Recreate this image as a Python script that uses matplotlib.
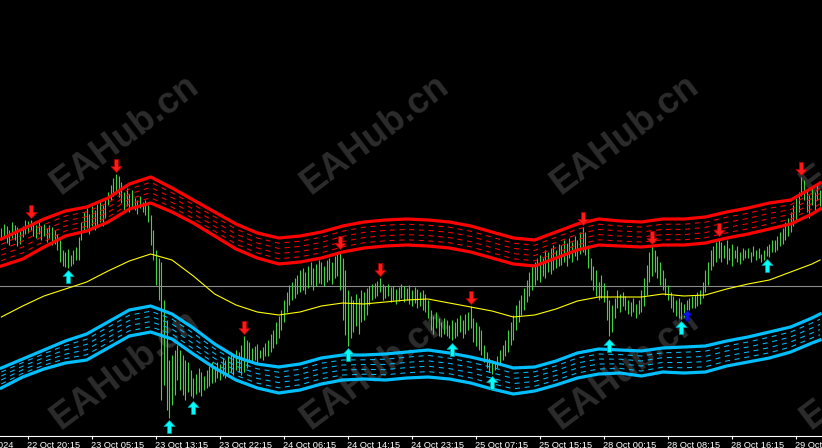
import matplotlib
matplotlib.use("Agg")
import matplotlib.pyplot as plt
import numpy as np
from matplotlib.path import Path

plt.rcParams["lines.scale_dashes"] = False

# bar highs / lows (price in chart points), one value per bar
highs = [
    272, 276, 274, 270, 278, 275, 273, 269, 274, 280,
    279, 280, 277, 275, 278, 274, 276, 272, 275, 273,
    270, 266, 260, 250, 248, 251, 245, 250, 253, 263,
    278, 288, 292, 286, 294, 290, 296, 300, 295, 302,
    308, 315, 322, 326, 324, 318, 308, 312, 306, 310,
    302, 300, 304, 298, 300, 295, 285, 270, 250, 242,
    238, 200, 180, 140, 145, 150, 155, 150, 145, 140,
    138, 130, 122, 126, 132, 128, 124, 130, 134, 138,
    134, 138, 136, 142, 140, 144, 148, 145, 150, 148,
    155, 164, 160, 158, 152, 154, 156, 150, 153, 157,
    160, 166, 170, 178, 184, 190, 200, 208, 215, 218,
    222, 225, 230, 232, 228, 234, 238, 232, 236, 240,
    238, 234, 240, 242, 238, 244, 246, 249, 242, 230,
    210, 204, 200, 206, 202, 210, 208, 212, 214, 216,
    217, 219, 222, 216, 214, 216, 213, 214, 211, 213,
    216, 214, 212, 215, 210, 213, 211, 208, 210, 206,
    200, 190, 184, 188, 182, 178, 182, 180, 175, 180,
    178, 182, 185, 180, 186, 188, 194, 182, 178, 174,
    170, 155, 148, 142, 140, 138, 144, 150, 155, 160,
    170, 178, 185, 195, 200, 205, 212, 220, 228, 235,
    238, 242, 245, 242, 250, 248, 252, 255, 250, 256,
    255, 260, 257, 262, 258, 264, 260, 268, 273, 268,
    255, 242, 234, 230, 218, 225, 217, 210, 200, 195,
    202, 210, 206, 208, 204, 200, 198, 202, 196, 200,
    210, 222, 235, 248, 254, 250, 244, 238, 230, 222,
    215, 208, 204, 200, 202, 198, 196, 200, 202, 204,
    205, 208, 210, 218, 230, 238, 250, 254, 258, 262,
    258, 255, 260, 252, 256, 250, 254, 248, 252, 250,
    252, 248, 254, 250, 252, 246, 250, 254, 256, 260,
    260, 264, 268, 272, 278, 282, 288, 295, 302, 308,
    323, 320, 310, 305, 312, 308, 315, 310,
]
lows = [
    260, 264, 257, 255, 262, 260, 254, 256, 263, 266,
    267, 270, 264, 262, 266, 260, 264, 258, 262, 255,
    256, 250, 238, 234, 233, 232, 234, 236, 240, 240,
    260, 268, 272, 266, 274, 270, 275, 278, 274, 282,
    295, 300, 304, 306, 303, 297, 290, 294, 288, 292,
    290, 286, 292, 288, 285, 278, 255, 240, 215, 200,
    100, 115, 90, 82, 95, 105, 120, 110, 105, 100,
    108, 104, 102, 106, 108, 104, 110, 112, 114, 117,
    118, 122, 120, 124, 122, 126, 128, 125, 130, 128,
    125, 128, 132, 138, 138, 140, 136, 142, 140, 144,
    144, 148, 152, 156, 162, 170, 178, 188, 195, 200,
    202, 206, 208, 210, 206, 212, 215, 210, 214, 217,
    216, 214, 218, 220, 216, 222, 224, 210, 180, 165,
    154, 162, 168, 174, 166, 178, 180, 185, 195, 200,
    202, 204, 208, 200, 202, 204, 198, 200, 196, 199,
    202, 198, 200, 196, 194, 197, 192, 194, 190, 188,
    182, 170, 166, 172, 164, 163, 166, 164, 162, 160,
    162, 164, 168, 162, 166, 170, 172, 158, 154, 150,
    145, 138, 132, 128, 126, 130, 132, 136, 140, 144,
    148, 155, 160, 170, 178, 185, 190, 198, 204, 210,
    215, 220, 218, 224, 222, 228, 226, 230, 232, 234,
    235, 238, 234, 242, 238, 244, 240, 246, 248, 245,
    232, 220, 210, 204, 200, 202, 198, 180, 164, 168,
    182, 192, 188, 194, 190, 186, 184, 188, 182, 186,
    188, 194, 205, 218, 224, 228, 222, 215, 210, 205,
    200, 192, 188, 184, 182, 181, 183, 185, 190, 192,
    192, 194, 196, 202, 208, 215, 230, 234, 238, 242,
    238, 242, 236, 240, 234, 242, 238, 236, 240, 242,
    242, 238, 244, 240, 242, 238, 240, 244, 243, 248,
    248, 250, 254, 256, 260, 264, 268, 274, 280, 288,
    304, 300, 288, 282, 295, 290, 300, 294,
]

# indicator lines, sampled every 8 bars
band_idx = [0, 8, 16, 24, 32, 40, 48, 56, 64, 72, 80, 88, 96, 104, 112, 120,
            128, 136, 144, 152, 160, 168, 176, 184, 192, 200, 208, 216, 224,
            232, 240, 248, 256, 264, 272, 280, 288, 296, 304, 307]
red_top = [261, 271, 281, 289, 293, 302, 316, 323, 312, 300,
           288, 276, 267, 262, 264, 268, 274, 278, 280, 281,
           280, 278, 274, 268, 262, 260, 268, 276, 281, 279,
           278, 281, 281, 283, 288, 292, 297, 300, 312, 317]
red_bot = [234, 241, 253, 264, 269, 278, 291, 297, 288, 277,
           264, 251, 242, 236, 238, 242, 248, 252, 254, 255,
           254, 252, 248, 242, 236, 234, 242, 250, 255, 254,
           253, 255, 255, 257, 262, 266, 271, 276, 286, 291]
blue_top = [132, 141, 150, 159, 166, 178, 190, 194, 186, 172,
            156, 143, 136, 133, 136, 142, 145, 145, 146, 148,
            150, 147, 143, 138, 132, 133, 139, 147, 151, 150,
            149, 152, 153, 154, 159, 163, 168, 173, 182, 186]
blue_bot = [112, 123, 131, 137, 140, 152, 164, 168, 161, 146,
            132, 120, 112, 107, 110, 116, 120, 121, 120, 122,
            123, 121, 117, 111, 106, 109, 115, 122, 126, 127,
            124, 128, 127, 128, 134, 138, 142, 148, 157, 160]
yellow_ma = [183, 194, 204, 211, 218, 229, 239, 246, 240, 224,
             206, 195, 188, 185, 188, 194, 197, 196, 198, 200,
             201, 197, 193, 189, 183, 185, 191, 199, 203, 203,
             203, 206, 204, 205, 211, 216, 220, 228, 236, 240]
bid_level = 214

# signal arrows: bar index and arrow tip price
sell_idx = [11, 43, 91, 127, 142, 176, 218, 244, 269, 300]
sell_tip = [282, 328, 166, 251, 224, 196, 275, 256, 264, 325]
buy_idx = [25, 63, 72, 130, 169, 184, 228, 255, 287]
buy_tip = [230, 80, 99, 152, 157, 124, 161, 179, 241]
blue_idx = [257]
blue_tip = [190]

tick_bars = [10, 34, 58, 82, 106, 130, 154, 178, 202, 226, 250, 274, 298]
tick_labels = ["22 Oct 20:15", "23 Oct 05:15", "23 Oct 13:15", "23 Oct 22:15",
               "24 Oct 06:15", "24 Oct 14:15", "24 Oct 23:15", "25 Oct 07:15",
               "25 Oct 15:15", "28 Oct 00:15", "28 Oct 08:15", "28 Oct 16:15",
               "29 Oct 01:15"]
first_label = "22 Oct 2024"


def arrow_path(up):
    v = np.array([(0, 0), (5.5, -6), (2, -6), (2, -13), (-2, -13),
                  (-2, -6), (-5.5, -6), (0, 0)], dtype=float)
    if not up:
        v[:, 1] *= -1
    return Path(v, closed=True)


fig = plt.figure(figsize=(8.22, 4.48), dpi=100, facecolor="black")
ax = fig.add_axes([0, 12 / 448, 1, 436 / 448])
ax.set_facecolor("black")
ax.set_xlim(-0.5, 307.75)
ax.set_ylim(64, 500)

# watermark
for cx, cy in [(125, 135), (375, 135), (625, 135), (875, 135),
               (125, 370), (375, 370), (625, 370), (875, 370)]:
    ax.text(cx / 822, 1 - cy / 448, "EAHub.cn", transform=fig.transFigure,
            rotation=37, rotation_mode="anchor", ha="center", va="center",
            fontsize=26.5, fontweight="bold", family="Liberation Sans",
            color="#2c2c2c", zorder=0.5)

ax.axhline(bid_level, color="#8c8c8c", lw=0.8, zorder=1)

idx = np.arange(len(highs))
ax.vlines(idx, lows, highs, color="#3fd43f", lw=0.8, zorder=2)

bi = np.array(band_idx)
ax.plot(bi, yellow_ma, color="#ffff00", lw=0.8, zorder=3)
for top, bot, col in [(red_top, red_bot, "#ff0000"), (blue_top, blue_bot, "#00bfff")]:
    top = np.array(top, dtype=float)
    bot = np.array(bot, dtype=float)
    for f in (0.2, 0.4, 0.6, 0.8):
        ax.plot(bi, top + (bot - top) * f, color=col, lw=0.75,
                dashes=(3.6, 3.4), zorder=3)
    ax.plot(bi, top, color=col, lw=2.3, zorder=4)
    ax.plot(bi, bot, color=col, lw=2.3, zorder=4)

ax.plot(sell_idx, sell_tip, ls="none", marker=arrow_path(False), ms=18.7,
        mfc="#ff1a1a", mec="#b00000", mew=0.5, zorder=5)
ax.plot(buy_idx, buy_tip, ls="none", marker=arrow_path(True), ms=18.7,
        mfc="#00ffff", mec="#00a0a0", mew=0.5, zorder=5)
ax.plot(blue_idx, blue_tip, ls="none", marker=arrow_path(True), ms=15,
        mfc="#1010ff", mec="#0000a0", mew=0.5, zorder=5)

for s in ("top", "left", "right"):
    ax.spines[s].set_visible(False)
ax.spines["bottom"].set_color("white")
ax.spines["bottom"].set_linewidth(0.8)
ax.set_yticks([])
ax.set_xticks(tick_bars)
ax.tick_params(axis="x", colors="white", length=2.3, width=0.8,
               labelbottom=False)

xt = ax.get_xaxis_transform()
for b, lab in zip(tick_bars, tick_labels):
    ax.text(b - 0.2, -0.011, lab, transform=xt, ha="left", va="top",
            fontsize=6.7, family="Liberation Sans", color="white", clip_on=False)
ax.text(4.5, -0.011, first_label, transform=xt, ha="right", va="top",
        fontsize=6.7, family="Liberation Sans", color="white", clip_on=False)

fig.savefig("out.png", dpi=100, facecolor="black")
plt.close(fig)
